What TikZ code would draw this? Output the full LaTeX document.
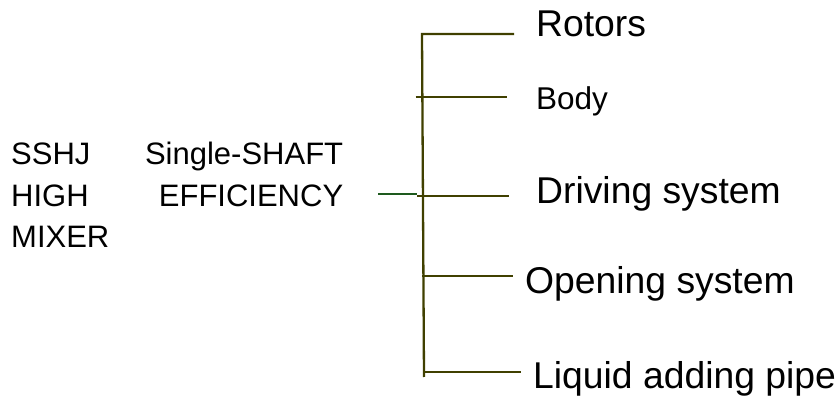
\documentclass[tikz,border=0pt]{standalone}
\usepackage{fontspec}
\setmainfont{Liberation Sans}
\definecolor{trunkolive}{RGB}{64,64,0}
\definecolor{leafgreen}{RGB}{30,90,30}
\begin{document}
\begin{tikzpicture}[x=1pt,y=-1pt,
  branch/.style={draw=trunkolive,line width=2.3pt},
  feeder/.style={draw=leafgreen,line width=2.3pt},
  item/.style={anchor=base west,inner sep=0pt,font=\fontsize{37.3}{40}\selectfont},
  title/.style={anchor=base west,inner sep=0pt,text width=332pt,align=left,
    font=\fontsize{31}{41.5}\selectfont}]
\useasboundingbox (0,0) rectangle (839,403);

% machine name
\node[title] (name) at (11,165) {SSHJ\hfill Single-SHAFT\\HIGH\hfill EFFICIENCY\\MIXER};

% component labels
\node[item] (rotors) at (536,36.7) {Rotors};
\node[item,font=\fontsize{31.5}{34}\selectfont] (body) at (536,110) {Body};
\node[item] (driving) at (536,204) {Driving system};
\node[item] (opening) at (525,294) {Opening system};
\node[item] (liquid) at (533,389) {Liquid adding pipe};

% trunk and branch points
\coordinate (ttop) at (422,34);
\coordinate (tbot) at (424,377);
\coordinate (bRotors) at (514,34);
\coordinate (sBody) at (415.7,97);
\coordinate (bBody) at (507,97);
\coordinate (sFeed) at (378,193.7);
\coordinate (eFeed) at (417,193.7);
\coordinate (sDrive) at (417,195.7);
\coordinate (bDrive) at (509,195.7);
\coordinate (sOpen) at (422,275.7);
\coordinate (bOpen) at (513,275.7);
\coordinate (sLiquid) at (424,372);
\coordinate (bLiquid) at (521,372);

\draw[branch] (tbot) -- (ttop) -- (bRotors);
\draw[branch] (sBody) -- (bBody);
\draw[feeder] (sFeed) -- (eFeed);
\draw[branch] (sDrive) -- (bDrive);
\draw[branch] (sOpen) -- (bOpen);
\draw[branch] (sLiquid) -- (bLiquid);
\end{tikzpicture}
\end{document}
